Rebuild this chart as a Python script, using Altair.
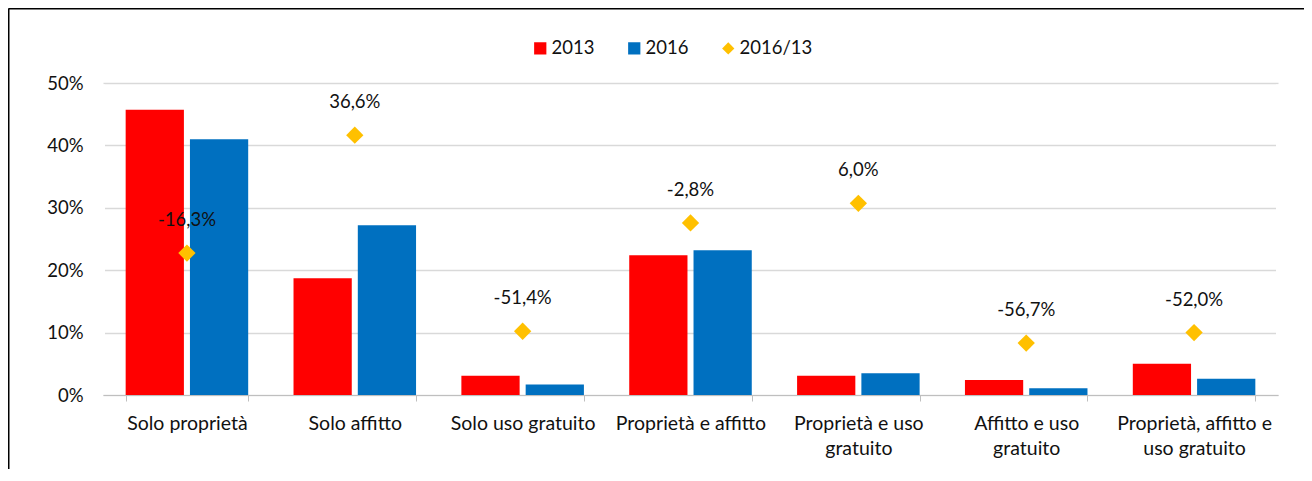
import altair as alt
import pandas as pd

categories = ["Solo proprietà", "Solo affitto", "Solo uso gratuito", "Proprietà e affitto",
              "Proprietà e uso gratuito", "Affitto e uso gratuito",
              "Proprietà, affitto e uso gratuito"]
wrapped = {
    "Proprietà e uso gratuito": ["Proprietà e uso", "gratuito"],
    "Affitto e uso gratuito": ["Affitto e uso", "gratuito"],
    "Proprietà, affitto e uso gratuito": ["Proprietà, affitto e", "uso gratuito"],
}
share_2013 = [45.7, 18.7, 3.1, 22.4, 3.1, 2.4, 5.0]
share_2016 = [41.0, 27.2, 1.7, 23.2, 3.5, 1.1, 2.6]
change_16_13 = [-16.3, 36.6, -51.4, -2.8, 6.0, -56.7, -52.0]
series = ["2013", "2016", "2016/13"]
colors = ["#FF0000", "#0070C0", "#FFC000"]
shapes = ["square", "square", "diamond"]
y_ticks = [0, 0.1, 0.2, 0.3, 0.4, 0.5]

FONT = "Lato"
TXT = "#111111"
FS = 18.5
FSX = 19.5
W, H = 1175, 312

bars_df = pd.DataFrame(
    [{"cat": c, "serie": "2013", "value": v / 100} for c, v in zip(categories, share_2013)]
    + [{"cat": c, "serie": "2016", "value": v / 100} for c, v in zip(categories, share_2016)]
)
pts_df = pd.DataFrame({
    "cat": categories,
    "serie": "2016/13",
    "chg": change_16_13,
    "label": [f"{v:.1f}%".replace(".", ",") for v in change_16_13],
})

label_expr = "datum.label"
for k, parts in wrapped.items():
    arr = "[" + ",".join(f"'{p}'" for p in parts) + "]"
    label_expr = f"datum.label == '{k}' ? {arr} : ({label_expr})"

x_enc = alt.X(
    "cat:N", sort=categories, title=None,
    scale=alt.Scale(paddingInner=0.27, paddingOuter=0.135),
    axis=alt.Axis(labelAngle=0, labelFontSize=FSX, labelLineHeight=25, labelPadding=13,
                  labelColor=TXT, labelFont=FONT, labelLimit=300, domain=True,
                  domainColor="#BFBFBF", tickColor="#BFBFBF", tickSize=6,
                  tickBand="extent", grid=False, labelExpr=label_expr, zindex=0),
)

legend = alt.Legend(
    title=None, orient="none", legendX=428, legendY=-44, direction="horizontal",
    labelFontSize=FS, labelFont=FONT, labelColor=TXT, symbolSize=150,
    labelOffset=2, columnPadding=30, padding=0, symbolStrokeWidth=0,
    symbolOpacity=1,
)
color_enc = alt.Color("serie:N", scale=alt.Scale(domain=series, range=colors), legend=legend)
shape_enc = alt.Shape("serie:N", scale=alt.Scale(domain=series, range=shapes), legend=legend)

bars = alt.Chart(bars_df).mark_bar().encode(
    x=x_enc,
    xOffset=alt.XOffset("serie:N", sort=["2013", "2016"],
                        scale=alt.Scale(paddingInner=0.094, paddingOuter=0)),
    y=alt.Y("value:Q", title=None, scale=alt.Scale(domain=[0, 0.5]),
            axis=alt.Axis(format=".0%", values=y_ticks, ticks=False, domain=False,
                          grid=True, labelPadding=20, labelFontSize=FS, labelFont=FONT,
                          labelColor=TXT, gridColor="#D9D9D9", gridWidth=1.3, zindex=0)),
    color=color_enc,
)

y2 = alt.Y("chg:Q", scale=alt.Scale(domain=[-80, 60]), axis=None)

points = alt.Chart(pts_df).mark_point(filled=True, size=300, opacity=1).encode(
    x=alt.X("cat:N", sort=categories),
    y=y2,
    color=color_enc,
    shape=shape_enc,
)

labels = alt.Chart(pts_df).mark_text(dy=-27, baseline="alphabetic", fontSize=FS,
                                     font=FONT, color=TXT).encode(
    x=alt.X("cat:N", sort=categories),
    y=y2,
    text="label:N",
)

frame_df = pd.DataFrame({"k": [0]})
left_rule = alt.Chart(frame_df).mark_rule(color="#000000", strokeWidth=2).encode(
    x=alt.value(-94.5), y=alt.value(-74.5), y2=alt.value(420))
top_rule = alt.Chart(frame_df).mark_rule(color="#000000", strokeWidth=2).encode(
    x=alt.value(-94.5), x2=alt.value(1300), y=alt.value(-74.5))
mask_left = alt.Chart(frame_df).mark_rule(color="#FFFFFF", strokeWidth=4).encode(
    x=alt.value(0), y=alt.value(1.5), y2=alt.value(H - 1))
mask_right = alt.Chart(frame_df).mark_rule(color="#FFFFFF", strokeWidth=4).encode(
    x=alt.value(W), y=alt.value(1.5), y2=alt.value(H - 1))

chart = alt.layer(bars, points, labels, mask_left, mask_right, left_rule, top_rule).resolve_scale(
    y="independent"
).properties(
    width=W, height=H,
    autosize=alt.AutoSizeParams(type="none"),
    padding={"left": 95, "top": 75, "right": 26, "bottom": 74},
).configure(font=FONT).configure_view(
    strokeWidth=0, stroke="transparent"
).configure_axis(domain=False, grid=False).configure_axisBand(grid=False)

chart.save("out.html", embed_options={"renderer": "svg", "actions": False})
